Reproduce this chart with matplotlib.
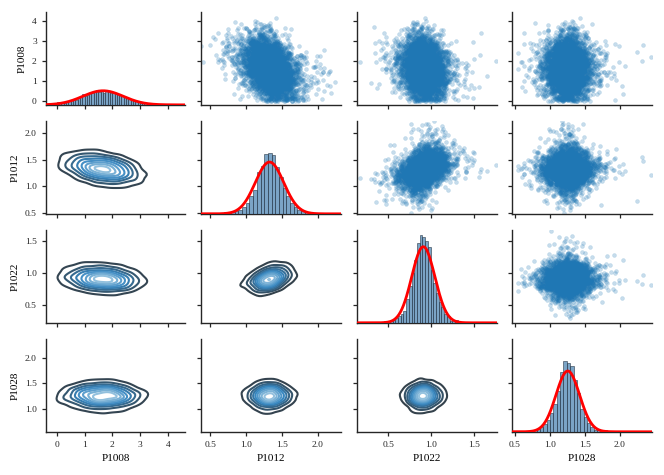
import numpy as np
import matplotlib
matplotlib.use("Agg")
import matplotlib.pyplot as plt
from matplotlib.colors import LinearSegmentedColormap
from matplotlib.ticker import MultipleLocator

# параметры распределений (среднее, ско, корреляции)
names = ["P1008", "P1012", "P1022", "P1028"]
means = [1.65, 1.33, 0.91, 1.26]
stds = [0.74, 0.20, 0.14, 0.175]
corr = [
    [1.00, -0.35, -0.15, 0.00],
    [-0.35, 1.00, 0.40, 0.00],
    [-0.15, 0.40, 1.00, 0.00],
    [0.00, 0.00, 0.00, 1.00],
]
tail_df = [0, 5, 5, 5]  # 0 - нормальное, иначе хвосты как у t
n_points = 5000

# границы осей по столбцам (x) и строкам (y)
col_lims = [(-0.39, 4.62), (0.375, 2.325), (0.136, 1.764), (0.467, 2.461)]
row_lims = [(-0.18, 4.42), (0.475, 2.228), (0.226, 1.668), (0.555, 2.36)]
tick_steps = [1.0, 0.5, 0.5, 0.5]

plt.rcParams["font.family"] = ["Liberation Serif", "DejaVu Serif"]
plt.rcParams["axes.spines.top"] = False
plt.rcParams["axes.spines.right"] = False
plt.rcParams["axes.edgecolor"] = ".15"
plt.rcParams["axes.linewidth"] = 1.0
for a in ("xtick", "ytick"):
    plt.rcParams[a + ".direction"] = "out"
    plt.rcParams[a + ".major.size"] = 3
    plt.rcParams[a + ".major.width"] = 0.9
    plt.rcParams[a + ".color"] = ".15"
    plt.rcParams[a + ".labelsize"] = 6.8
plt.rcParams["axes.labelsize"] = 8

# выборка по заданным параметрам (облако точек нельзя прочитать поточечно)
rng = np.random.default_rng(7)
cov = np.array(corr)
z = rng.multivariate_normal(np.zeros(4), cov, size=n_points)
data = np.empty_like(z)
for k in range(4):
    col = z[:, k]
    if tail_df[k]:
        df = tail_df[k]
        col = col / np.sqrt(rng.chisquare(df, n_points) / df) * np.sqrt((df - 2) / df)
    data[:, k] = means[k] + stds[k] * col
data[:, 0] = np.abs(data[:, 0])

blues = plt.get_cmap("Blues")
kde_cmap = LinearSegmentedColormap.from_list("blues_d", ["#333333", blues(2 / 3), blues(1 / 3)])


def kde2d(x, y, gridsize=100, cut=3):
    n = len(x)
    bx = 1.06 * x.std() * n ** (-1 / 6)
    by = 1.06 * y.std() * n ** (-1 / 6)
    gx = np.linspace(x.min() - cut * bx, x.max() + cut * bx, gridsize)
    gy = np.linspace(y.min() - cut * by, y.max() + cut * by, gridsize)
    kx = np.exp(-0.5 * ((gx[None, :] - x[:, None]) / bx) ** 2)
    ky = np.exp(-0.5 * ((gy[None, :] - y[:, None]) / by) ** 2)
    zz = ky.T @ kx / (n * bx * by * 2 * np.pi)
    return gx, gy, zz


fig, axes = plt.subplots(4, 4, figsize=(6.64, 4.75), dpi=100, sharex="col", sharey="row")
fig.subplots_adjust(left=0.069, right=0.982, top=0.974, bottom=0.091, wspace=0.114, hspace=0.178)

twins = []
for i in range(4):
    for j in range(4):
        ax = axes[i, j]
        x = data[:, j]
        y = data[:, i]
        if i < j:
            ax.scatter(x, y, s=8, color="C0", alpha=0.25, linewidths=0.3)
        elif i > j:
            gx, gy, zz = kde2d(x, y)
            ax.contour(gx, gy, zz, 10, cmap=kde_cmap, linewidths=1.5)
        else:
            tw = ax.twinx()
            if twins:
                tw.sharey(twins[0])
            twins.append(tw)
            tw.hist(x, bins=50, density=True, color="#4f86b4", alpha=0.75,
                    edgecolor="#1d2b3a", linewidth=0.5)
            bw = 1.06 * x.std() * len(x) ** (-1 / 5)
            xs = np.linspace(x.min() - 3 * bw, x.max() + 3 * bw, 200)
            mu, sd = x.mean(), x.std()
            pdf = np.exp(-0.5 * ((xs - mu) / sd) ** 2) / (sd * np.sqrt(2 * np.pi))
            tw.plot(xs, pdf, color="red", lw=2)
            tw.set_yticks([])
            for s in tw.spines.values():
                s.set_visible(False)

for tw in twins:
    tw.set_ylim(bottom=0)

for k in range(4):
    axes[-1, k].set_xlim(col_lims[k])
    axes[-1, k].xaxis.set_major_locator(MultipleLocator(tick_steps[k]))
    axes[-1, k].set_xlabel(names[k], labelpad=4)
    axes[k, 0].set_ylim(row_lims[k])
    axes[k, 0].yaxis.set_major_locator(MultipleLocator(tick_steps[k]))
    axes[k, 0].set_ylabel(names[k], labelpad=4)

plt.savefig("out.png", dpi=100)
